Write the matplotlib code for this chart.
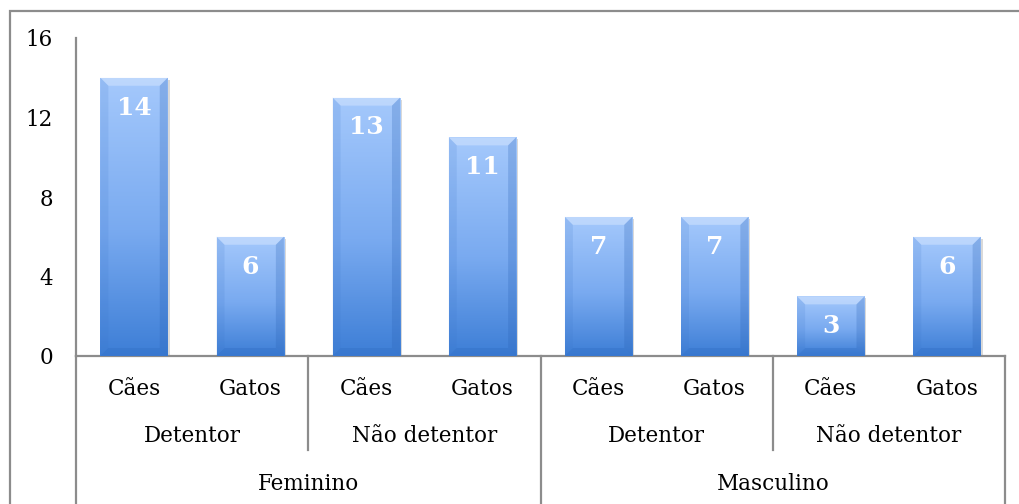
import matplotlib
matplotlib.use("Agg")
import matplotlib.pyplot as plt
import numpy as np
from matplotlib.colors import LinearSegmentedColormap
from matplotlib.patches import Polygon, Rectangle
from matplotlib.transforms import blended_transform_factory
from matplotlib.lines import Line2D

# ---- data ----
animals = ["Cães", "Gatos", "Cães", "Gatos", "Cães", "Gatos", "Cães", "Gatos"]
owner_groups = ["Detentor", "Não detentor", "Detentor", "Não detentor"]
genders = ["Feminino", "Masculino"]
values = [14, 6, 13, 11, 7, 7, 3, 6]
yticks = [0, 4, 8, 12, 16]

FONT = "DejaVu Serif"
FS = 15.5
W, H = 1019, 504
fig = plt.figure(figsize=(W / 100, H / 100), dpi=100)

# figure border
fig.patches.append(Rectangle((9.5 / W, -0.1), 1.2, 1 - 10.5 / H + 0.1, transform=fig.transFigure,
                             fill=False, edgecolor="#8c8c8c", linewidth=1.6))

ax = fig.add_axes([76 / W, (H - 356) / H, (1005 - 76) / W, (356 - 38) / H])
n = len(values)
x = np.arange(n)
bars = ax.bar(x, values, width=0.58, color="none", edgecolor="none", zorder=3)
ax.set_xlim(-0.5, n - 0.5)
ax.set_ylim(0, 16)
ax.set_yticks(yticks)
ax.set_yticklabels([str(t) for t in yticks], fontsize=FS, family=FONT)
ax.tick_params(axis="y", length=0, pad=16.5)
ax.set_xticks([])
for s in ["top", "right", "bottom"]:
    ax.spines[s].set_visible(False)
ax.spines["left"].set_color("#8c8c8c")
ax.spines["left"].set_linewidth(1.6)

cmap = LinearSegmentedColormap.from_list("g", [(0, "#3d7ed6"), (0.45, "#79aaf0"), (1, "#a5c9fc")])
grad = np.linspace(0, 1, 256).reshape(-1, 1)
px_y = 16 / (356 - 38)
px_x = n / (1005 - 76)
bv_y = 8 * px_y
bv_x = 8 * px_x
for b, v in zip(bars, values):
    x0, w, h = b.get_x(), b.get_width(), b.get_height()
    # shadow
    ax.add_patch(Rectangle((x0 + 2 * px_x, 0), w, h - 2 * px_y, facecolor="#000000", alpha=0.15,
                           edgecolor="none", zorder=2))
    im = ax.imshow(grad, extent=(x0, x0 + w, 0, h), origin="lower", aspect="auto",
                   cmap=cmap, zorder=3, interpolation="bilinear")
    rect = Rectangle((x0, 0), w, h, transform=ax.transData, facecolor="none", edgecolor="none")
    ax.add_patch(rect)
    im.set_clip_path(rect)
    # top bevel (light)
    ax.add_patch(Polygon([(x0, h), (x0 + w, h), (x0 + w - bv_x, h - bv_y), (x0 + bv_x, h - bv_y)],
                         facecolor="#dceaff", alpha=0.45, edgecolor="none", zorder=4))
    # bottom bevel (dark)
    ax.add_patch(Polygon([(x0, 0), (x0 + w, 0), (x0 + w - bv_x, bv_y), (x0 + bv_x, bv_y)],
                         facecolor="#2f6cc2", alpha=0.35, edgecolor="none", zorder=4))
    # side bevels
    ax.add_patch(Polygon([(x0, 0), (x0 + bv_x, bv_y), (x0 + bv_x, h - bv_y), (x0, h)],
                         facecolor="#3a74c8", alpha=0.15, edgecolor="none", zorder=4))
    ax.add_patch(Polygon([(x0 + w, 0), (x0 + w - bv_x, bv_y), (x0 + w - bv_x, h - bv_y), (x0 + w, h)],
                         facecolor="#2a62b5", alpha=0.25, edgecolor="none", zorder=4))
    ax.annotate(str(v), (b.get_x() + w / 2, h), xytext=(0, -21.5), textcoords="offset points",
                ha="center", va="center", color="white", fontsize=18, fontweight="bold",
                family=FONT, zorder=5)

# category axis
tr = blended_transform_factory(ax.transData, ax.transAxes)
ax_h_px = 356 - 38
def yax(px_below):
    return -px_below / ax_h_px

line_kw = dict(color="#8c8c8c", linewidth=1.6, clip_on=False, transform=tr)
ax.add_line(Line2D([-0.5, n - 0.5], [0, 0], **line_kw))
for i, a in enumerate(animals):
    ax.text(i, yax(33), a, transform=tr, ha="center", va="center", fontsize=FS, family=FONT)
for j, g in enumerate(owner_groups):
    ax.text(2 * j + 0.5, yax(80), g, transform=tr, ha="center", va="center", fontsize=FS, family=FONT)
for k, g in enumerate(genders):
    ax.text(4 * k + 1.5, yax(128), g, transform=tr, ha="center", va="center", fontsize=FS, family=FONT)
# separators
for xs in [1.5, 5.5]:
    ax.add_line(Line2D([xs, xs], [0, yax(94)], **line_kw))
for xs in [-0.5, 3.5, n - 0.5]:
    ax.add_line(Line2D([xs, xs], [0, yax(160)], **line_kw))

fig.savefig("out.png", dpi=100)
